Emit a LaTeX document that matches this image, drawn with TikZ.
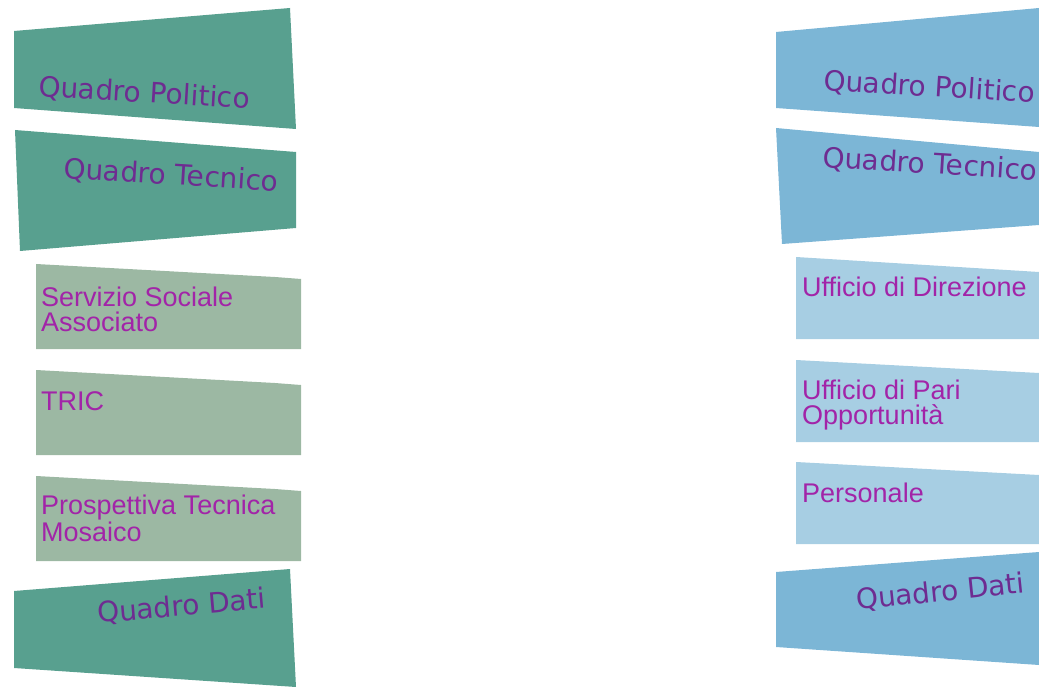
\documentclass[tikz,border=0pt]{standalone}
\usepackage{fontspec}
\setmainfont{Liberation Sans}
\newfontfamily\quadrofont{DejaVu Sans}
\usetikzlibrary{positioning}

\definecolor{verdescuro}{HTML}{58A08F}
\definecolor{verdechiaro}{HTML}{9CB8A3}
\definecolor{bluscuro}{HTML}{7CB6D6}
\definecolor{bluchiaro}{HTML}{A7CEE3}
\definecolor{violaquadro}{HTML}{6E2C91}
\definecolor{violaufficio}{HTML}{A224A8}

\begin{document}
\begin{tikzpicture}[
        x=1pt, y=-1pt,
        quadro/.style={anchor=base west, inner sep=0pt, text=violaquadro, font=\quadrofont\fontsize{28}{30}\selectfont},
        ufficio/.style={anchor=base west, inner sep=0pt, align=left, text=violaufficio, font=\fontsize{27}{25}\selectfont}
      ]
        \useasboundingbox (0,0) rectangle (1039,687);

        % Left column - panels
        \fill[verdescuro] (14,31) -- (290,8) -- (296,129) -- (14,108) -- cycle;
        \fill[verdescuro] (15,130) -- (296,152) -- (296,228) -- (20,251) -- cycle;
        \fill[verdechiaro] (36,264) -- (275,277) -- (301,279) -- (301,349) -- (36,349) -- cycle;
        \fill[verdechiaro] (36,370) -- (275,383) -- (301,385) -- (301,455) -- (36,455) -- cycle;
        \fill[verdechiaro] (36,476) -- (275,489) -- (301,491) -- (301,561) -- (36,561) -- cycle;
        \fill[verdescuro] (14,591) -- (290,569) -- (296,687) -- (14,668) -- cycle;

        % Right column - panels
        \fill[bluscuro] (776,32) -- (1039,8) -- (1039,127) -- (776,108) -- cycle;
        \fill[bluscuro] (776,128) -- (1039,152) -- (1039,225) -- (782,244) -- cycle;
        \fill[bluchiaro] (796,257) -- (1039,272) -- (1039,339) -- (796,339) -- cycle;
        \fill[bluchiaro] (796,360) -- (1039,373) -- (1039,442) -- (796,442) -- cycle;
        \fill[bluchiaro] (796,462) -- (1039,475) -- (1039,544) -- (796,544) -- cycle;
        \fill[bluscuro] (776,572) -- (1039,552) -- (1039,665) -- (776,647) -- cycle;

        % Left column - labels (two-line labels sit on their last line)
        \node[quadro, rotate=-3.5] (politicoL) at (38,96) {Quadro Politico};
        \node[quadro, rotate=-3.5] (tecnicoL) at (63,178) {Quadro Tecnico};
        \node[ufficio] (servizio) at (41,331) {Servizio Sociale\\Associato};
        \node[ufficio] (tric) at (41,410) {TRIC};
        \node[ufficio] (mosaico) at (41,541) {Prospettiva Tecnica\\Mosaico};
        \node[quadro, rotate=5] (datiL) at (98,623) {Quadro Dati};

        % Right column - labels
        \node[quadro, rotate=-3.5] (politicoR) at (823,90) {Quadro Politico};
        \node[quadro, rotate=-3.5] (tecnicoR) at (822,167) {Quadro Tecnico};
        \node[ufficio] (direzione) at (802,296) {Ufficio di Direzione};
        \node[ufficio] (pari) at (802,424) {Ufficio di Pari\\Opportunità};
        \node[ufficio] (personale) at (802,502) {Personale};
        \node[quadro, rotate=6] (datiR) at (857,610) {Quadro Dati};
      \end{tikzpicture}
\end{document}
